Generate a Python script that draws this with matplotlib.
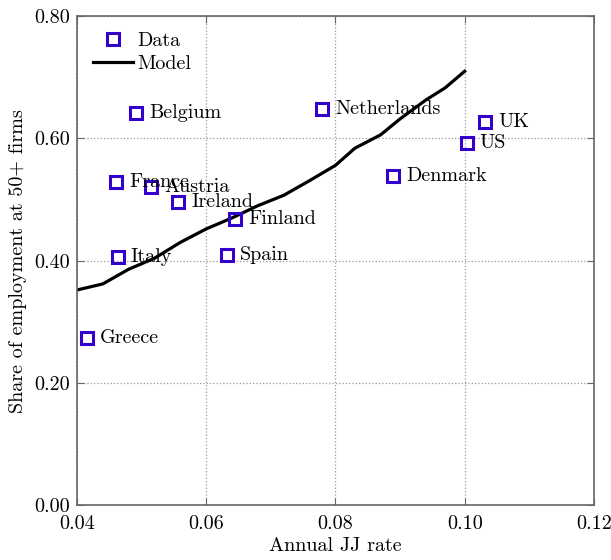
import matplotlib
matplotlib.use("Agg")
import matplotlib.pyplot as plt

plt.rcParams['font.family'] = 'serif'
plt.rcParams['font.serif'] = ['cmr10', 'DejaVu Serif']
plt.rcParams['axes.formatter.use_mathtext'] = True
plt.rcParams['mathtext.fontset'] = 'cm'

# data points (countries)
countries = ['Belgium', 'France', 'Austria', 'Ireland', 'Finland', 'Italy', 'Spain',
             'Greece', 'Netherlands', 'UK', 'US', 'Denmark']
jj_rate = [0.0491, 0.0460, 0.0515, 0.0556, 0.0645, 0.0463, 0.0632,
           0.0415, 0.0779, 0.1031, 0.1003, 0.0889]
share50 = [0.641, 0.528, 0.520, 0.496, 0.468, 0.406, 0.409,
           0.273, 0.648, 0.627, 0.592, 0.538]

# model curve
model_x = [0.040, 0.044, 0.048, 0.052, 0.056, 0.060, 0.064, 0.068, 0.072,
           0.076, 0.080, 0.083, 0.087, 0.090, 0.094, 0.097, 0.100]
model_y = [0.352, 0.362, 0.386, 0.404, 0.430, 0.452, 0.470, 0.490, 0.507,
           0.531, 0.556, 0.584, 0.606, 0.632, 0.663, 0.683, 0.710]

col = '#3300cc'
fs = 14.5
fig = plt.figure(figsize=(6.11, 5.60), dpi=100)
ax = fig.add_axes([0.126, 0.098, 0.846, 0.873])

ax.plot(jj_rate, share50, 's', ms=9, mfc='none', mec=col, mew=2.2, label='Data', zorder=3)
ax.plot(model_x, model_y, '-', color='black', lw=2.3, label='Model', zorder=2)

for name, x, y in zip(countries, jj_rate, share50):
    ax.annotate(name, (x, y), xytext=(9.5, 0), textcoords='offset points',
                va='center', ha='left', fontsize=fs)

ax.set_xlim(0.04, 0.12)
ax.set_ylim(0.0, 0.8)
ax.set_xticks([0.04, 0.06, 0.08, 0.10, 0.12])
ax.set_yticks([0.0, 0.2, 0.4, 0.6, 0.8])
ax.set_xticklabels(['0.04', '0.06', '0.08', '0.10', '0.12'])
ax.set_yticklabels(['0.00', '0.20', '0.40', '0.60', '0.80'])
ax.tick_params(direction='in', top=True, right=True, labelsize=fs, length=5,
               color='#666666')
ax.tick_params(axis='x', pad=7)
ax.tick_params(axis='y', pad=5)
for s in ax.spines.values():
    s.set_color('#666666')
    s.set_linewidth(1.2)
ax.grid(True, linestyle=':', color='#999999', lw=0.9)
ax.set_axisbelow(True)

ax.set_xlabel('Annual JJ rate', fontsize=fs, labelpad=3)
ax.set_ylabel('Share of employment at 50+ firms', fontsize=fs, labelpad=5)

ax.legend(loc='upper left', frameon=False, fontsize=fs, handlelength=2.0,
          handletextpad=0.2, borderaxespad=0.4, labelspacing=0.2)

fig.savefig('out.png', dpi=100)
